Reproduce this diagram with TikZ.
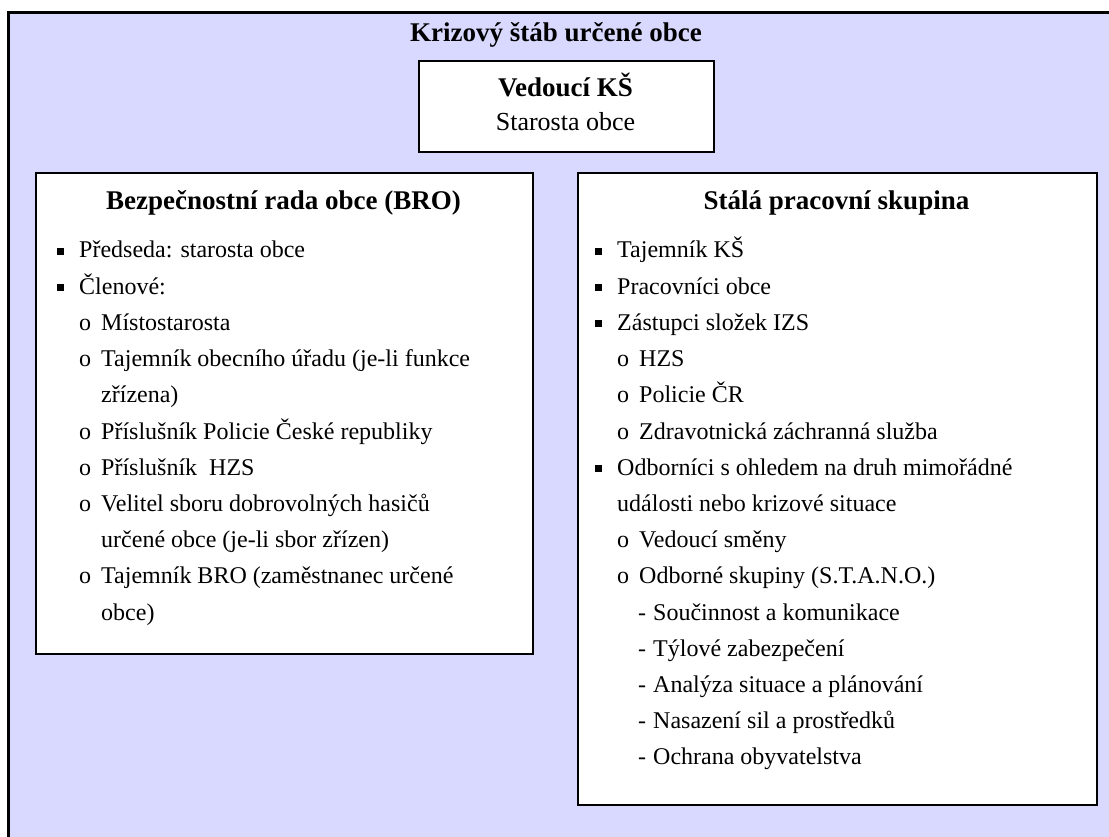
\documentclass[tikz,border=0pt]{standalone}
\usepackage{fontspec}
\setmainfont{Liberation Serif}
\definecolor{panelfill}{RGB}{217,217,255}
% list markers: square bullet, circle, dash, and continuation indents
\newcommand\sqbullet{\raisebox{3pt}{\rule{7pt}{7pt}}}
\newcommand\Lb{\makebox[22pt][l]{\sqbullet}}
\newcommand\Lo{\hspace*{22pt}\makebox[22pt][l]{o}}
\newcommand\Loc{\hspace*{44pt}}
\newcommand\Lbc{\hspace*{22pt}}
\newcommand\Ld{\hspace*{43pt}\makebox[15pt][l]{-}}
\tikzset{
  panel/.style={draw=black, line width=1.6pt, fill=white, anchor=north west, inner sep=0pt},
  line/.style={anchor=base west, inner sep=0pt, font=\fontsize{24}{29}\selectfont},
  heading/.style={anchor=base, inner sep=0pt, font=\fontsize{27}{32}\selectfont\bfseries},
}
\begin{document}
\begin{tikzpicture}[x=1pt, y=-1pt]
\useasboundingbox (0,0) rectangle (1109,837);
% outer frame
\draw[line width=3pt, fill=panelfill] (8,13) rectangle (1115,845);
\node[heading] (title) at (556,42) {Krizový štáb určené obce};

% head of the staff
\node[panel, minimum width=295pt, minimum height=91pt] (lead) at (418,60) {};
\node[heading] (leadname) at (565.5,97) {Vedoucí KŠ};
\node[anchor=base, inner sep=0pt, font=\fontsize{26}{30}\selectfont] (leadrole) at (565.5,131) {Starosta obce};

% security council
\node[panel, minimum width=497pt, minimum height=481pt] (bro) at (35,172) {};
\node[heading] (brohead) at (283.5,210) {Bezpečnostní rada obce (BRO)};
\foreach \tx [count=\i from 0] in {
  {\Lb Předseda: starosta obce},
  {\Lb Členové:},
  {\Lo Místostarosta},
  {\Lo Tajemník obecního úřadu (je-li funkce},
  {\Loc zřízena)},
  {\Lo Příslušník Policie České republiky},
  {\Lo Příslušník\ \ HZS},
  {\Lo Velitel sboru dobrovolných hasičů},
  {\Loc určené obce (je-li sbor zřízen)},
  {\Lo Tajemník BRO (zaměstnanec určené},
  {\Loc obce)}}
  \node[line] (bro\i) at (57,258+36.2*\i) {\tx};

% permanent working group
\node[panel, minimum width=519pt, minimum height=632pt] (spg) at (577,172) {};
\node[heading] (spghead) at (836.5,210) {Stálá pracovní skupina};
\foreach \tx [count=\i from 0] in {
  {\Lb Tajemník KŠ},
  {\Lb Pracovníci obce},
  {\Lb Zástupci složek IZS},
  {\Lo HZS},
  {\Lo Policie ČR},
  {\Lo Zdravotnická záchranná služba},
  {\Lb Odborníci s ohledem na druh mimořádné},
  {\Lbc události nebo krizové situace},
  {\Lo Vedoucí směny},
  {\Lo Odborné skupiny (S.T.A.N.O.)},
  {\Ld Součinnost a komunikace},
  {\Ld Týlové zabezpečení},
  {\Ld Analýza situace a plánování},
  {\Ld Nasazení sil a prostředků},
  {\Ld Ochrana obyvatelstva}}
  \node[line] (spg\i) at (595,258+36.2*\i) {\tx};
\end{tikzpicture}
\end{document}
